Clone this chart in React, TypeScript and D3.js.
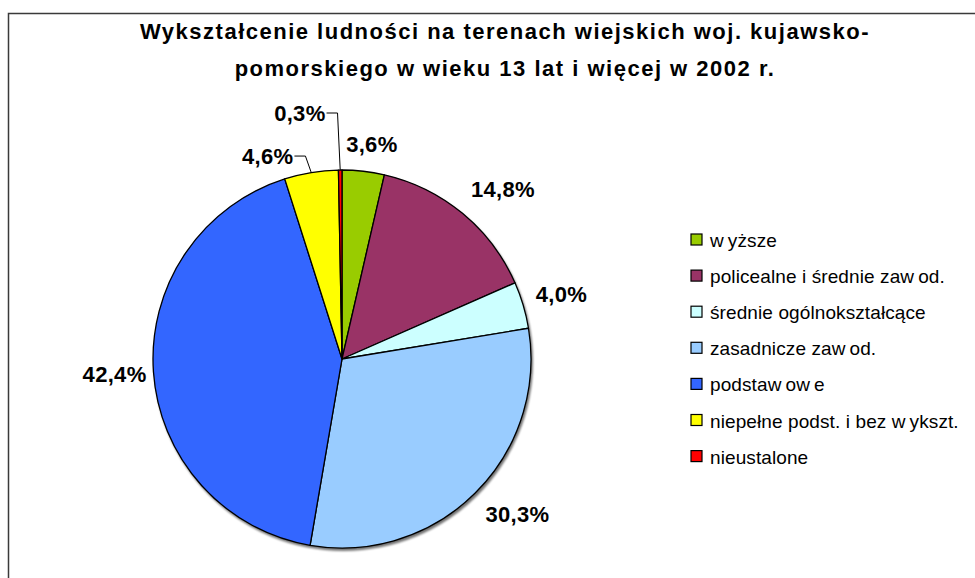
import React, { useEffect, useRef } from 'react';
import * as d3 from 'd3';

const titleLines = [
  'Wykształcenie ludności na terenach wiejskich woj. kujawsko-',
  'pomorskiego w wieku 13 lat i więcej w 2002 r.',
];
const categories = [
  'wyższe',
  'policealne i średnie zawod.',
  'średnie ogólnokształcące',
  'zasadnicze zawod.',
  'podstawowe',
  'niepełne podst. i bez wykszt.',
  'nieustalone',
];
const values = [3.6, 14.8, 4.0, 30.3, 42.4, 4.6, 0.3];
const colors = ['#99CC00', '#993366', '#CCFFFF', '#99CCFF', '#3366FF', '#FFFF00', '#FF0000'];
// label nudges (px) relative to default outside position; leader lines for moved labels
const labelNudges: [number, number][] = [[4, 13], [15, 6], [0, 0], [14, -7], [1, -1], [-37, 23], [-40, -17]];
const hasLeader = [false, false, false, false, false, true, true];

const W = 975;
const H = 578;

export default function App() {
  const ref = useRef<SVGSVGElement | null>(null);

  useEffect(() => {
    const svg = d3.select(ref.current);
    svg.selectAll('*').remove();

    const defs = svg.append('defs');
    defs.append('filter').attr('id', 'sh').attr('x', '-10%').attr('y', '-10%').attr('width', '120%').attr('height', '120%')
      .append('feGaussianBlur').attr('stdDeviation', 1.2);

    svg.append('rect').attr('width', W).attr('height', H).attr('fill', '#fff');
    // frame
    svg.append('rect').attr('x', 8.5).attr('y', 13.5).attr('width', W + 20).attr('height', H + 20)
      .attr('fill', 'none').attr('stroke', '#3a3a3a').attr('stroke-width', 1.5);

    // title
    const tg = svg.append('g');
    titleLines.forEach((t, i) => {
      tg.append('text').attr('x', 505).attr('y', 39 + i * 37)
        .attr('text-anchor', 'middle')
        .attr('font-family', '"Liberation Sans", Arial, sans-serif')
        .attr('font-weight', 'bold').attr('font-size', 22)
        .attr('letter-spacing', 1.5)
        .attr('fill', '#000').text(t);
    });

    const cx = 342, cy = 359, R = 189;
    const pie = d3.pie<number>().sort(null).value((d) => d)(values);
    const arc = d3.arc<d3.PieArcDatum<number>>().innerRadius(0).outerRadius(R);

    const g = svg.append('g').attr('transform', `translate(${cx},${cy})`);
    g.append('circle').attr('cx', 1.5).attr('cy', 2.5).attr('r', R + 0.5)
      .attr('fill', '#000').attr('opacity', 0.55).attr('filter', 'url(#sh)');
    g.selectAll('path.slice').data(pie).enter().append('path')
      .attr('class', 'slice')
      .attr('d', arc as any)
      .attr('fill', (_d, i) => colors[i])
      .attr('stroke', '#000').attr('stroke-width', 1.3).attr('stroke-linejoin', 'round');

    const fmt = (v: number) => d3.format('.1f')(v).replace('.', ',') + '%';
    const labelR = R + 40;
    pie.forEach((p, i) => {
      const a = (p.startAngle + p.endAngle) / 2;
      const lx = Math.sin(a) * labelR + labelNudges[i][0];
      const ly = -Math.cos(a) * labelR + labelNudges[i][1];
      const t = g.append('text').attr('x', lx).attr('y', ly + 8)
        .attr('text-anchor', 'middle')
        .attr('font-family', '"Liberation Sans", Arial, sans-serif')
        .attr('font-weight', 'bold').attr('font-size', 22)
        .attr('letter-spacing', 0.3)
        .attr('fill', '#000').text(fmt(values[i]));
      if (hasLeader[i]) {
        const w = (t.node() as SVGTextElement).getComputedTextLength();
        const x0 = lx + w / 2 + 1;
        const ex = Math.sin(a) * R;
        const ey = -Math.cos(a) * R;
        g.append('path')
          .attr('d', `M${x0},${ly}H${x0 + 11}L${ex},${ey}`)
          .attr('fill', 'none').attr('stroke', '#000').attr('stroke-width', 1);
      }
    });

    // legend
    const lg = svg.append('g');
    categories.forEach((c, i) => {
      const yc = 240 + i * 36.1;
      lg.append('rect').attr('x', 691).attr('y', yc - 6).attr('width', 11).attr('height', 11)
        .attr('fill', colors[i]).attr('stroke', '#000').attr('stroke-width', 1.2);
      const txt = lg.append('text').attr('x', 710).attr('y', yc + 7)
        .attr('font-family', '"Liberation Sans", Arial, sans-serif')
        .attr('font-size', 19).attr('letter-spacing', 0.1).attr('fill', '#000');
      const parts = c.split('w');
      parts.forEach((part, k) => {
        const s = part + (k < parts.length - 1 ? 'w' : '');
        if (!s) return;
        txt.append('tspan').attr('dx', k > 0 ? 4 : 0).text(s);
      });
    });
  }, []);

  return (
    <svg ref={ref} width={W} height={H}
      style={{ position: 'absolute', left: 0, top: 0, display: 'block' }} />
  );
}
